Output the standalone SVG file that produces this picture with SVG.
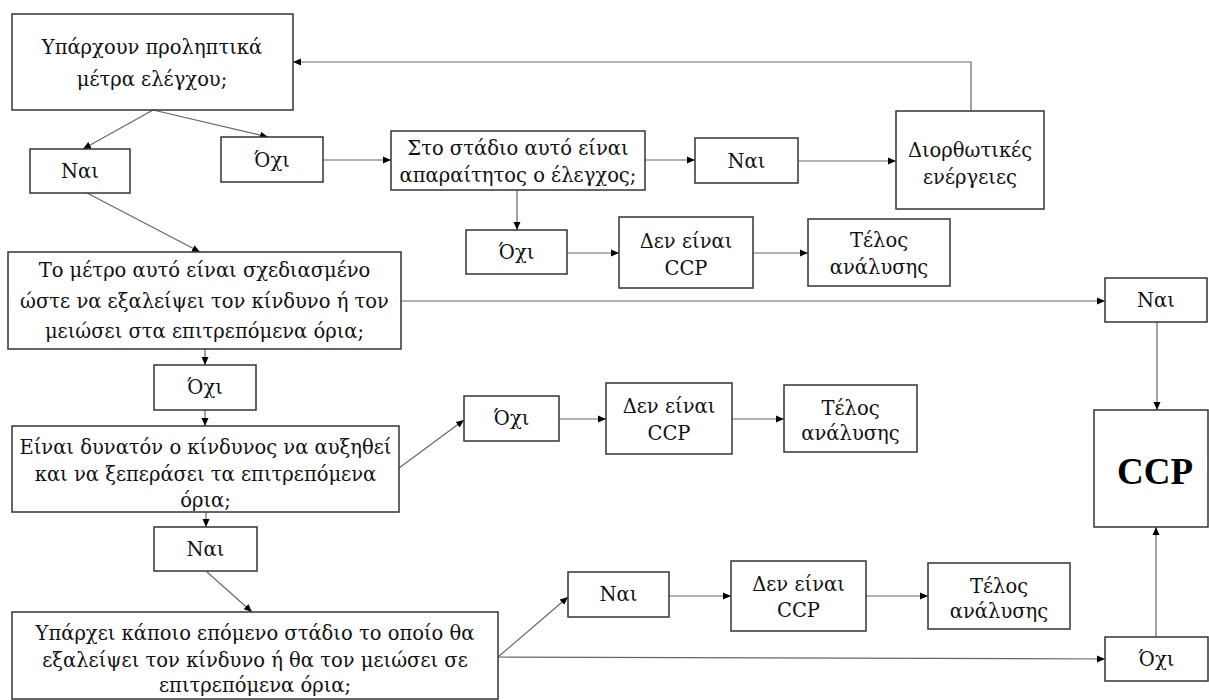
<svg xmlns="http://www.w3.org/2000/svg" width="1209" height="700" viewBox="0 0 1209 700">
<style>
.box{fill:#fff;stroke:#333;stroke-width:1.5}
.t{font-family:"DejaVu Serif","Liberation Serif",serif;font-size:19.5px;fill:#111;text-anchor:middle}
.big{font-family:"Liberation Serif","DejaVu Serif",serif;font-size:37px;font-weight:bold;fill:#000;text-anchor:middle}
.c{fill:none;stroke:#666;stroke-width:1.2}
</style>
<defs>
<marker id="ah" markerUnits="userSpaceOnUse" markerWidth="9" markerHeight="8" refX="8" refY="4" orient="auto">
<path d="M0,0.5 L8,4 L0,7.5 z" fill="#000"/>
</marker>
</defs>
<rect width="1209" height="700" fill="#fff"/>
<g id="connectors">
<path class="c" d="M153,110 L83,149" marker-end="url(#ah)"/>
<path class="c" d="M153,110 L268,137" marker-end="url(#ah)"/>
<path class="c" d="M323,160 L391,160" marker-end="url(#ah)"/>
<path class="c" d="M645,160 L695,160" marker-end="url(#ah)"/>
<path class="c" d="M798,161 L896,161" marker-end="url(#ah)"/>
<path class="c" d="M971,111 L971,62 L293,62" marker-end="url(#ah)"/>
<path class="c" d="M517,190 L517,230" marker-end="url(#ah)"/>
<path class="c" d="M567,253 L619,253" marker-end="url(#ah)"/>
<path class="c" d="M753,253 L808,253" marker-end="url(#ah)"/>
<path class="c" d="M87,193 L200,252" marker-end="url(#ah)"/>
<path class="c" d="M401,301 L1105,301" marker-end="url(#ah)"/>
<path class="c" d="M1157,322 L1157,410" marker-end="url(#ah)"/>
<path class="c" d="M205,349 L205,365" marker-end="url(#ah)"/>
<path class="c" d="M205,410 L205,426" marker-end="url(#ah)"/>
<path class="c" d="M399,468 L464,420" marker-end="url(#ah)"/>
<path class="c" d="M559,419 L606,419" marker-end="url(#ah)"/>
<path class="c" d="M732,419 L784,419" marker-end="url(#ah)"/>
<path class="c" d="M206,512 L206,527" marker-end="url(#ah)"/>
<path class="c" d="M207,572 L252,612" marker-end="url(#ah)"/>
<path class="c" d="M498,657 L568,597" marker-end="url(#ah)"/>
<path class="c" d="M498,657 L1105,659" marker-end="url(#ah)"/>
<path class="c" d="M669,596 L731,596" marker-end="url(#ah)"/>
<path class="c" d="M866,596 L928,596" marker-end="url(#ah)"/>
<path class="c" d="M1156,637 L1156,527" marker-end="url(#ah)"/>
</g>
<g id="n1"><rect class="box" x="12" y="14" width="281" height="96"/><text class="t" x="152" y="54">Υπάρχουν προληπτικά</text><text class="t" x="152" y="86">μέτρα ελέγχου;</text></g>
<g id="n2"><rect class="box" x="30" y="149" width="100" height="44"/><text class="t" x="80" y="178">Ναι</text></g>
<g id="n3"><rect class="box" x="221" y="137" width="102" height="45"/><text class="t" x="272" y="167">Όχι</text></g>
<g id="n4"><rect class="box" x="391" y="131" width="254" height="59"/><text class="t" x="518" y="155">Στο στάδιο αυτό είναι</text><text class="t" x="518" y="182">απαραίτητος ο έλεγχος;</text></g>
<g id="n5"><rect class="box" x="695" y="138" width="103" height="45"/><text class="t" x="746.5" y="168">Ναι</text></g>
<g id="n6"><rect class="box" x="896" y="111" width="148" height="98"/><text class="t" x="970" y="157">Διορθωτικές</text><text class="t" x="970" y="184">ενέργειες</text></g>
<g id="n7"><rect class="box" x="466" y="230" width="101" height="44"/><text class="t" x="516.5" y="259">Όχι</text></g>
<g id="n8"><rect class="box" x="619" y="217" width="134" height="71"/><text class="t" x="686" y="248">Δεν είναι</text><text class="t" x="686" y="275">CCP</text></g>
<g id="n9"><rect class="box" x="808" y="219" width="142" height="67"/><text class="t" x="879" y="247">Τέλος</text><text class="t" x="879" y="274">ανάλυσης</text></g>
<g id="n10"><rect class="box" x="8" y="252" width="393" height="97"/><text class="t" x="204.5" y="277">Το μέτρο αυτό είναι σχεδιασμένο</text><text class="t" x="204.5" y="308">ώστε να εξαλείψει τον κίνδυνο ή τον</text><text class="t" x="204.5" y="338">μειώσει στα επιτρεπόμενα όρια;</text></g>
<g id="n11"><rect class="box" x="154" y="365" width="102" height="45"/><text class="t" x="205" y="394">Όχι</text></g>
<g id="n12"><rect class="box" x="12" y="426" width="387" height="86"/><text class="t" x="205.5" y="454">Είναι δυνατόν ο κίνδυνος να αυξηθεί</text><text class="t" x="205.5" y="481">και να ξεπεράσει τα επιτρεπόμενα</text><text class="t" x="205.5" y="507">όρια;</text></g>
<g id="n13"><rect class="box" x="464" y="396" width="95" height="45"/><text class="t" x="511.5" y="425">Όχι</text></g>
<g id="n14"><rect class="box" x="606" y="383" width="126" height="71"/><text class="t" x="669" y="413">Δεν είναι</text><text class="t" x="669" y="440">CCP</text></g>
<g id="n15"><rect class="box" x="784" y="385" width="133" height="67"/><text class="t" x="850.5" y="415">Τέλος</text><text class="t" x="850.5" y="440">ανάλυσης</text></g>
<g id="n16"><rect class="box" x="154" y="527" width="103" height="44"/><text class="t" x="205.5" y="556">Ναι</text></g>
<g id="n17"><rect class="box" x="12" y="612" width="486" height="87"/><text class="t" x="255" y="640">Υπάρχει κάποιο επόμενο στάδιο το οποίο θα</text><text class="t" x="255" y="667">εξαλείψει τον κίνδυνο ή θα τον μειώσει σε</text><text class="t" x="255" y="692">επιτρεπόμενα όρια;</text></g>
<g id="n18"><rect class="box" x="568" y="572" width="101" height="45"/><text class="t" x="618.5" y="601">Ναι</text></g>
<g id="n19"><rect class="box" x="731" y="561" width="135" height="70"/><text class="t" x="798.5" y="591">Δεν είναι</text><text class="t" x="798.5" y="617">CCP</text></g>
<g id="n20"><rect class="box" x="928" y="563" width="142" height="66"/><text class="t" x="999" y="593">Τέλος</text><text class="t" x="999" y="618">ανάλυσης</text></g>
<g id="n21"><rect class="box" x="1105" y="637" width="103" height="44"/><text class="t" x="1156.5" y="666">Όχι</text></g>
<g id="n22"><rect class="box" x="1105" y="278" width="102" height="44"/><text class="t" x="1156" y="307">Ναι</text></g>
<g id="n23"><rect class="box" x="1094" y="410" width="114" height="117"/><text class="big" x="1155" y="484">CCP</text></g>
</svg>
